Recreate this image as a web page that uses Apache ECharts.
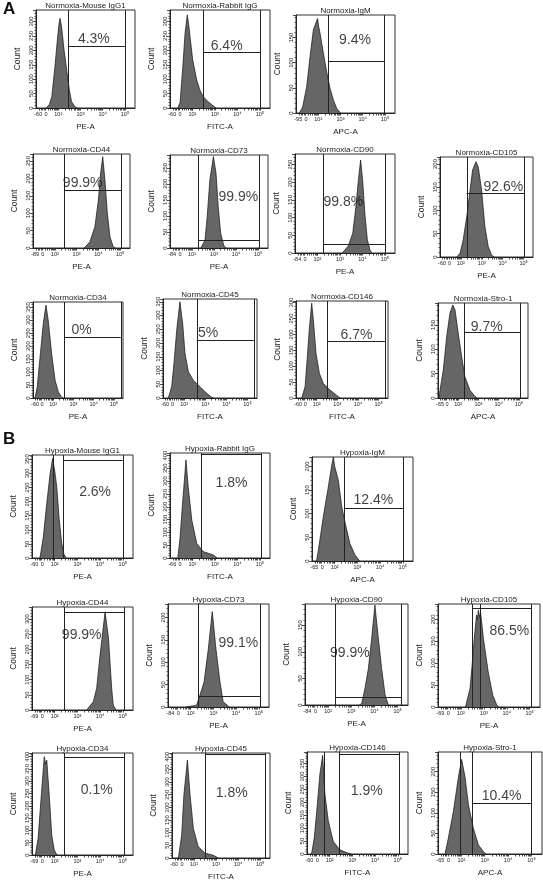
<!DOCTYPE html>
<html><head><meta charset="utf-8">
<script src="https://cdn.jsdelivr.net/npm/echarts@6/dist/echarts.min.js"></script>
<style>html,body{margin:0;padding:0;background:#fff}#c{width:543px;height:882px}</style>
</head><body><div id="c"></div>
<script>
// ---------------- DATA ----------------
const titles = ["Normoxia-Mouse IgG1","Normoxia-Rabbit IgG","Normoxia-IgM","Normoxia-CD44","Normoxia-CD73","Normoxia-CD90","Normoxia-CD105","Normoxia-CD34","Normoxia-CD45","Normoxia-CD146","Normoxia-Stro-1",
"Hypoxia-Mouse IgG1","Hypoxia-Rabbit IgG","Hypoxia-IgM","Hypoxia-CD44","Hypoxia-CD73","Hypoxia-CD90","Hypoxia-CD105","Hypoxia-CD34","Hypoxia-CD45","Hypoxia-CD146","Hypoxia-Stro-1"];
const channels = ["PE-A","FITC-A","APC-A","PE-A","PE-A","PE-A","PE-A","PE-A","FITC-A","FITC-A","APC-A",
"PE-A","FITC-A","APC-A","PE-A","PE-A","PE-A","PE-A","PE-A","FITC-A","FITC-A","APC-A"];
const negLabels = ["-60","-60","-95","-89","-84","-84","-60","-60","-60","-60","-65","-60","-66","-65","-69","-84","-84","-69","-69","-60","-60","-65"];
const yMax = [340,340,195,270,290,280,215,370,360,305,195,365,410,220,340,230,190,235,415,415,395,248];
const pctText = ["4.3%","6.4%","9.4%","99.9%","99.9%","99.8%","92.6%","0%","5%","6.7%","9.7%","2.6%","1.8%","12.4%","99.9%","99.1%","99.9%","86.5%","0.1%","1.8%","1.9%","10.4%"];
// x positions on the biexponential display scale (10^k -> k)
const xTickLabelPos = [1.1, 1.45, 2, 3, 4, 5];
const xTickLabelText = [null, "0", "10²", "10³", "10⁴", "10⁵"];
const xMinorTicks = [1.13,1.22,1.3,1.36,1.42,1.55,1.65,1.74,1.82,1.88,1.93,1.97,2,
 2.3,2.48,2.6,2.7,2.78,2.85,2.9,2.95,3,3.3,3.48,3.6,3.7,3.78,3.85,3.9,3.95,4,4.3,4.48,4.6,4.7,4.78,4.85,4.9,4.95,5];

const nIgG1  = [[1.45,0],[1.6,12],[1.71,39],[1.85,143],[1.96,236],[2.03,290],[2.08,311],[2.12,295],[2.15,282],[2.26,201],[2.38,132],[2.5,62],[2.6,22],[2.75,4],[2.85,0]];
const nRabbit= [[1.35,0],[1.45,20],[1.57,143],[1.67,259],[1.77,323],[1.83,290],[1.89,248],[2.01,167],[2.19,97],[2.33,62],[2.48,39],[2.7,22],[2.93,7],[3.05,0]];
const nIgM   = [[1.15,0],[1.3,12],[1.48,52],[1.63,112],[1.78,165],[1.9,180],[1.97,188],[2.02,172],[2.08,159],[2.23,119],[2.38,82],[2.53,49],[2.68,26],[2.83,9],[3.0,0]];
const nCD44  = [[3.35,0],[3.61,18],[3.84,61],[4.0,138],[4.1,215],[4.2,262],[4.3,195],[4.41,100],[4.53,32],[4.68,4],[4.78,0]];
const nCD73  = [[2.4,0],[2.59,25],[2.69,98],[2.81,212],[2.97,285],[3.09,233],[3.19,129],[3.3,46],[3.45,6],[3.55,0]];
const nCD90  = [[3.1,0],[3.37,20],[3.57,56],[3.71,131],[3.82,206],[3.92,263],[4.01,206],[4.12,103],[4.22,37],[4.34,8],[4.42,0]];
const nCD105 = [[1.8,0],[1.96,8],[2.11,37],[2.28,87],[2.44,144],[2.56,187],[2.72,205],[2.83,194],[2.99,144],[3.15,65],[3.31,22],[3.47,4],[3.6,0]];
const nCD34  = [[1.1,0],[1.21,43],[1.35,159],[1.51,288],[1.64,358],[1.75,301],[1.92,172],[2.09,69],[2.25,24],[2.41,3],[2.5,0]];
const nCD45  = [[1.25,0],[1.41,41],[1.52,126],[1.65,247],[1.8,350],[1.93,272],[2.04,163],[2.2,96],[2.43,65],[2.75,41],[3.07,17],[3.3,3],[3.4,0]];
const nCD146 = [[1.28,0],[1.44,36],[1.55,130],[1.64,214],[1.76,298],[1.84,245],[1.97,140],[2.13,78],[2.32,46],[2.56,30],[2.8,17],[3.05,4],[3.15,0]];
const nStro  = [[1.05,0],[1.1,16],[1.26,57],[1.43,126],[1.59,174],[1.73,191],[1.84,181],[2.0,133],[2.17,85],[2.33,44],[2.58,16],[2.83,3],[2.95,0]];
const hIgG1  = [[1.35,0],[1.5,75],[1.65,194],[1.8,300],[1.91,353],[2.0,310],[2.09,253],[2.2,135],[2.31,52],[2.4,15],[2.5,0]];
const hRabbit= [[1.35,0],[1.45,83],[1.56,214],[1.71,383],[1.81,278],[1.97,148],[2.19,57],[2.48,25],[2.93,12],[3.1,0]];
const hIgM   = [[1.2,0],[1.28,23],[1.5,94],[1.72,157],[1.88,205],[1.94,220],[2.0,200],[2.16,171],[2.31,115],[2.5,72],[2.67,37],[2.89,13],[3.1,0]];
const hCD44  = [[3.41,0],[3.7,27],[3.85,72],[4.0,182],[4.22,324],[4.37,237],[4.51,72],[4.58,16],[4.7,0]];
const hCD73  = [[1.8,0],[2.26,4],[2.41,27],[2.59,56],[2.78,131],[2.95,213],[3.11,131],[3.29,56],[3.43,12],[3.7,0]];
const hCD90  = [[3.35,0],[3.45,3],[3.59,31],[3.74,69],[3.88,125],[4.02,188],[4.17,125],[4.31,69],[4.46,19],[4.6,0]];
const hCD105 = [[2.2,0],[2.4,43],[2.5,103],[2.57,149],[2.68,210],[2.72,200],[2.76,221],[2.82,205],[2.86,215],[2.98,157],[3.19,80],[3.39,27],[3.56,5],[3.65,0]];
const hCD34  = [[1.15,0],[1.27,68],[1.41,244],[1.54,400],[1.6,370],[1.65,386],[1.76,244],[1.87,81],[1.98,20],[2.1,0]];
const hCD45  = [[1.29,0],[1.44,91],[1.54,249],[1.7,387],[1.82,249],[1.97,117],[2.19,45],[2.5,19],[2.88,11],[3.1,0]];
const hCD146 = [[1.2,0],[1.32,62],[1.43,166],[1.57,310],[1.69,382],[1.79,231],[1.94,127],[2.16,48],[2.45,16],[2.82,3],[2.95,0]];
const hStro  = [[1.3,0],[1.44,38],[1.66,104],[1.87,186],[2.01,230],[2.16,186],[2.3,120],[2.51,63],[2.73,22],[2.94,6],[3.05,0]];
const hists = [nIgG1,nRabbit,nIgM,nCD44,nCD73,nCD90,nCD105,nCD34,nCD45,nCD146,nStro,
               hIgG1,hRabbit,hIgM,hCD44,hCD73,hCD90,hCD105,hCD34,hCD45,hCD146,hStro];

const gateStart = [2.45,2.48,2.45,2.42,2.29,2.26,2.28,2.53,2.6,2.51,2.29, 2.38,2.41,2.41,2.42,2.33,2.3,2.5,2.42,2.5,2.41,2.47];
const gateEnd   = [5.0,5.0,4.97,5.04,5.05,5.0,5.02,5.34,5.3,5.3,5.09, 5.0,5.08,5.02,5.05,5.05,5.15,5.09,5.05,5.22,5.07,4.98];
const gateLevel = [215,193,102,165,25,25,138,236,211,177,134, 347,405,111,324,25,14,226,396,410,388,124];
const peakLine  = [null,null,null,null,null,null,null,null,null,null,null, 1.92,null,null,null,null,null,2.86,null,null,1.75,1.97];
const pctPos = [[3.6,240],[3.52,213],[3.65,145],[3.28,186],[4.1,160],[3.15,145],[4.03,151],[3.4,262],[3.14,235],[3.93,198],[3.41,146],
                [3.78,235],[3.74,292],[3.7,129],[3.19,248],[4.1,142],[2.94,97],[4.11,172],[3.85,265],[3.71,255],[3.63,244],[3.72,140]];

// ---------------- LAYOUT (plot frames: left, top, right, bottom in px) ----------------
const layout = [[36,10,135,108],[170,10,270,108],[296,15,395,113],
 [33,154,130,248],[170,155,268,248],[295,154,395,253],[440,157,533,257],
 [33,302,123,398],[163,299,257,398],[296,301,388,398],[438,303,528,398],
 [32,455,133,558],[170,453,270,558],[312,457,413,561],
 [32,607,133,710],[168,604,269,707],[305,604,408,705],[438,604,540,707],
 [32,753,133,855],[172,753,270,858],[307,752,408,854],[438,752,542,854]];

const FONT = 'Liberation Sans, Arial, sans-serif';
const option = {animation:false, textStyle:{fontFamily:FONT}, grid:[], xAxis:[], yAxis:[], series:[], graphic:[]};

option.graphic.push({type:'text', left:3, top:1, style:{text:'A', font:'bold 17px '+FONT, fill:'#111'}});
option.graphic.push({type:'text', left:3, top:431, style:{text:'B', font:'bold 17px '+FONT, fill:'#111'}});

hists.forEach((h, i) => {
  const [L,T,R,B] = layout[i];
  option.grid.push({left:L, top:T, width:R-L, height:B-T, show:true, borderColor:'#333', borderWidth:1, backgroundColor:'transparent'});
  option.graphic.push({type:'text', x:(L+R)/2, y:T-0.5, style:{text:titles[i], font:'8px '+FONT, fill:'#222', align:'center', verticalAlign:'bottom'}});
  option.xAxis.push({
    gridIndex:i, type:'value', min:1, max:5.45,
    axisLine:{show:true, lineStyle:{color:'#222', width:1}},
    axisTick:{show:true, customValues:xMinorTicks, length:2.5, lineStyle:{color:'#222', width:0.8}},
    axisLabel:{show:true, customValues:xTickLabelPos, fontSize:5.5, margin:3, color:'#222', showMinLabel:true,
      formatter:(v)=>{ let k=0, d=1e9; xTickLabelPos.forEach((p,j)=>{ if(Math.abs(p-v)<d){d=Math.abs(p-v);k=j;} }); return k===0?negLabels[i]:xTickLabelText[k]; }},
    splitLine:{show:false},
    name:channels[i], nameLocation:'middle', nameGap:15, nameTextStyle:{fontSize:8, color:'#222'}
  });
  option.yAxis.push({
    gridIndex:i, type:'value', min:0, max:yMax[i], interval:50,
    axisLine:{show:true, lineStyle:{color:'#222', width:1}},
    axisTick:{show:true, length:3, lineStyle:{color:'#222', width:0.8}},
    minorTick:{show:true, splitNumber:5, length:1.6, lineStyle:{color:'#222', width:0.6}},
    axisLabel:{rotate:90, fontSize:6, margin:2, color:'#222', formatter:(v)=> (v%50===0 ? String(v) : '')},
    splitLine:{show:false},
    name:'Count', nameLocation:'middle', nameGap:14, nameRotate:90, nameTextStyle:{fontSize:8.5, color:'#222'}
  });
  const ml = [
    [{coord:[gateStart[i],0]},{coord:[gateStart[i],yMax[i]]}],
    [{coord:[gateStart[i],gateLevel[i]]},{coord:[gateEnd[i],gateLevel[i]]}],
    [{coord:[gateEnd[i],0]},{coord:[gateEnd[i],yMax[i]]}]
  ];
  if (peakLine[i] !== null) ml.push([{coord:[peakLine[i],0]},{coord:[peakLine[i],yMax[i]]}]);
  option.series.push({
    type:'line', xAxisIndex:i, yAxisIndex:i, data:h, symbol:'none', silent:true,
    lineStyle:{color:'#111', width:0.7}, areaStyle:{color:'#666666', opacity:1},
    markLine:{silent:true, symbol:['none','none'], label:{show:false}, emphasis:{disabled:true},
      lineStyle:{color:'#222', width:1, type:'solid'}, data:ml},
    z:2
  });
  option.series.push({
    type:'scatter', xAxisIndex:i, yAxisIndex:i, data:[pctPos[i]], symbolSize:1, silent:true,
    itemStyle:{color:'transparent'},
    label:{show:true, position:'inside', formatter:pctText[i], fontSize:14, color:'#111', fontFamily:FONT},
    z:5
  });
});

const chart = echarts.init(document.getElementById('c'), null, {renderer:'canvas'});
chart.setOption(option);
</script>
</body></html>
